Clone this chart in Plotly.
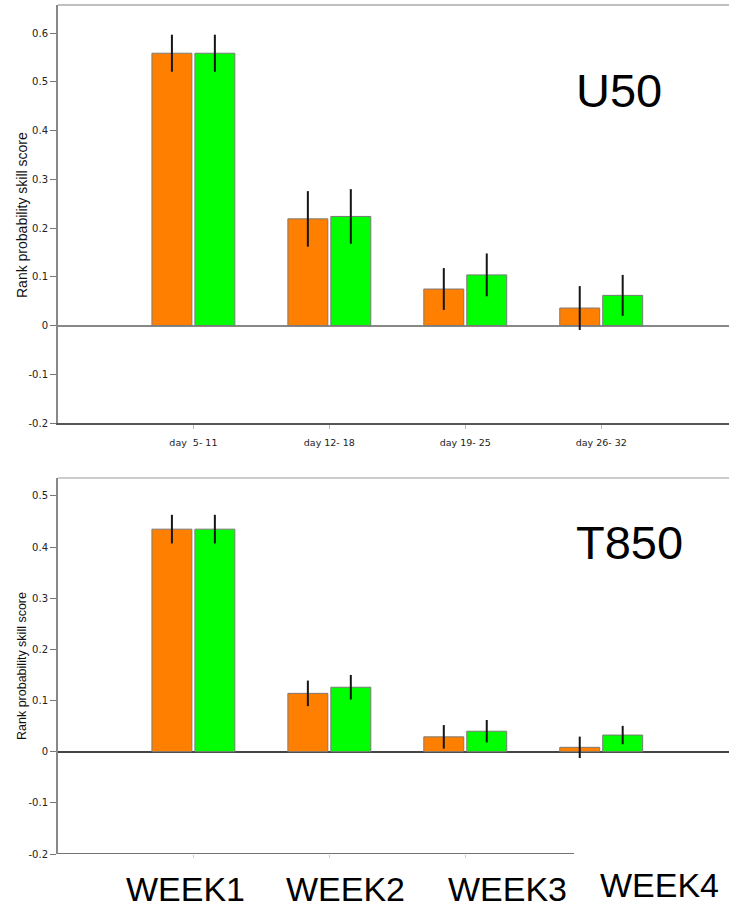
import plotly.graph_objects as go
from plotly.subplots import make_subplots

# Forecast periods (lead-time windows)
periods = ["day\u00a0 5- 11", "day 12- 18", "day 19- 25", "day 26- 32"]
week_labels = ["WEEK1", "WEEK2", "WEEK3", "WEEK4"]

# U50 rank probability skill score
u50_orange = [0.559, 0.219, 0.075, 0.036]
u50_orange_err = [0.038, 0.057, 0.043, 0.045]
u50_green = [0.559, 0.224, 0.104, 0.062]
u50_green_err = [0.038, 0.056, 0.044, 0.042]

# T850 rank probability skill score
t850_orange = [0.435, 0.114, 0.029, 0.0085]
t850_orange_err = [0.028, 0.025, 0.023, 0.021]
t850_green = [0.435, 0.126, 0.040, 0.0325]
t850_green_err = [0.028, 0.024, 0.022, 0.018]

ORANGE = "#FF8000"
GREEN = "#00FF00"
FONT = "Liberation Sans, Arial, sans-serif"
TICKFONT = "DejaVu Sans, Verdana, sans-serif"

W, H = 729, 911
ML, MR, MT, MB = 58, 0, 5, 57
PW, PH = W - ML - MR, H - MT - MB


def px_x(x):
    return (x - ML) / PW


def px_y(y):
    return (H - MB - y) / PH


fig = make_subplots(rows=2, cols=1, shared_xaxes=False, vertical_spacing=0.05)

xpos = list(range(len(periods)))


def add_pair(row, orange, orange_err, green, green_err):
    for vals, errs, col in ((orange, orange_err, ORANGE), (green, green_err, GREEN)):
        fig.add_trace(
            go.Bar(
                x=xpos,
                y=vals,
                marker=dict(color=col, line=dict(color="#7a7a7a", width=1)),
                error_y=dict(type="data", array=errs, visible=True,
                             color="#151515", thickness=2, width=0),
                showlegend=False,
            ),
            row=row, col=1,
        )


add_pair(1, u50_orange, u50_orange_err, u50_green, u50_green_err)
add_pair(2, t850_orange, t850_orange_err, t850_green, t850_green_err)

xrange = [-0.996, 3.94]

fig.update_layout(
    width=W, height=H,
    margin=dict(l=ML, r=MR, t=MT, b=MB),
    paper_bgcolor="white", plot_bgcolor="white",
    barmode="group", bargap=0.368, bargroupgap=0.07,
    font=dict(family=FONT, color="#222"),
    xaxis=dict(domain=[0, 1], anchor="y", range=xrange,
               tickvals=xpos, ticktext=periods,
               tickfont=dict(family=TICKFONT, size=9.5, color="#222"),
               ticks="outside", ticklen=4, tickcolor="#bbbbbb",
               ticklabelstandoff=6,
               showline=True, linecolor="#555", linewidth=1.5,
               showgrid=False, zeroline=False),
    yaxis=dict(domain=[px_y(423), px_y(5)], anchor="x",
               range=[-0.2, 0.658], tickvals=[-0.2, -0.1, 0, 0.1, 0.2, 0.3, 0.4, 0.5, 0.6],
               ticktext=["-0.2", "-0.1", "0", "0.1", "0.2", "0.3", "0.4", "0.5", "0.6"],
               tickfont=dict(family=TICKFONT, size=10, color="#222"),
               ticks="outside", ticklen=6, tickcolor="#777",
               showline=True, linecolor="#888", linewidth=2,
               showgrid=False, zeroline=True, zerolinecolor="#888", zerolinewidth=1.5),
    xaxis2=dict(domain=[0, 1], anchor="y2", range=xrange,
                tickvals=xpos[:3], showticklabels=False,
                ticks="outside", ticklen=3, tickcolor="#cccccc",
                showline=False, showgrid=False, zeroline=False),
    yaxis2=dict(domain=[0, px_y(478)], anchor="x2",
                range=[-0.2, 0.535], tickvals=[-0.2, -0.1, 0, 0.1, 0.2, 0.3, 0.4, 0.5],
                ticktext=["-0.2", "-0.1", "0", "0.1", "0.2", "0.3", "0.4", "0.5"],
                tickfont=dict(family=TICKFONT, size=10, color="#222"),
                ticks="outside", ticklen=6, tickcolor="#777",
                showline=True, linecolor="#888", linewidth=2,
                showgrid=False, zeroline=True, zerolinecolor="#444", zerolinewidth=1.5),
)

# Frame lines: light top borders and a shortened base line for the lower panel
fig.add_shape(type="line", xref="paper", yref="paper", x0=0, x1=1,
              y0=px_y(5), y1=px_y(5), line=dict(color="#aaaaaa", width=1.5))
fig.add_shape(type="line", xref="paper", yref="paper", x0=0, x1=1,
              y0=px_y(478), y1=px_y(478), line=dict(color="#bbbbbb", width=1.5))
fig.add_shape(type="line", xref="paper", yref="y2", x0=0, x1=px_x(574),
              y0=-0.2, y1=-0.2, line=dict(color="#444", width=1.5))

ann = []
# Y-axis titles
ann.append(dict(text="Rank probability skill score", textangle=-90,
                x=px_x(22), y=px_y(215), xref="paper", yref="paper",
                xanchor="center", yanchor="middle", showarrow=False,
                font=dict(size=14, color="#111")))
ann.append(dict(text="Rank probability skill score", textangle=-90,
                x=px_x(22), y=px_y(666), xref="paper", yref="paper",
                xanchor="center", yanchor="middle", showarrow=False,
                font=dict(size=12.5, color="#111")))
# Panel titles
ann.append(dict(text="U50", x=px_x(619), y=px_y(90), xref="paper", yref="paper",
                xanchor="center", yanchor="middle", showarrow=False,
                font=dict(size=47, color="black")))
ann.append(dict(text="T850", x=px_x(629.5), y=px_y(542), xref="paper", yref="paper",
                xanchor="center", yanchor="middle", showarrow=False,
                font=dict(size=47, color="black")))
# Week labels under the lower panel
for lbl, cx, cy in zip(week_labels, [185, 345, 507, 659], [889, 889, 889, 885]):
    ann.append(dict(text=lbl, x=px_x(cx), y=px_y(cy), xref="paper", yref="paper",
                    xanchor="center", yanchor="middle", showarrow=False,
                    font=dict(size=34, color="black")))
fig.update_layout(annotations=ann)

fig.write_html("out.html")
